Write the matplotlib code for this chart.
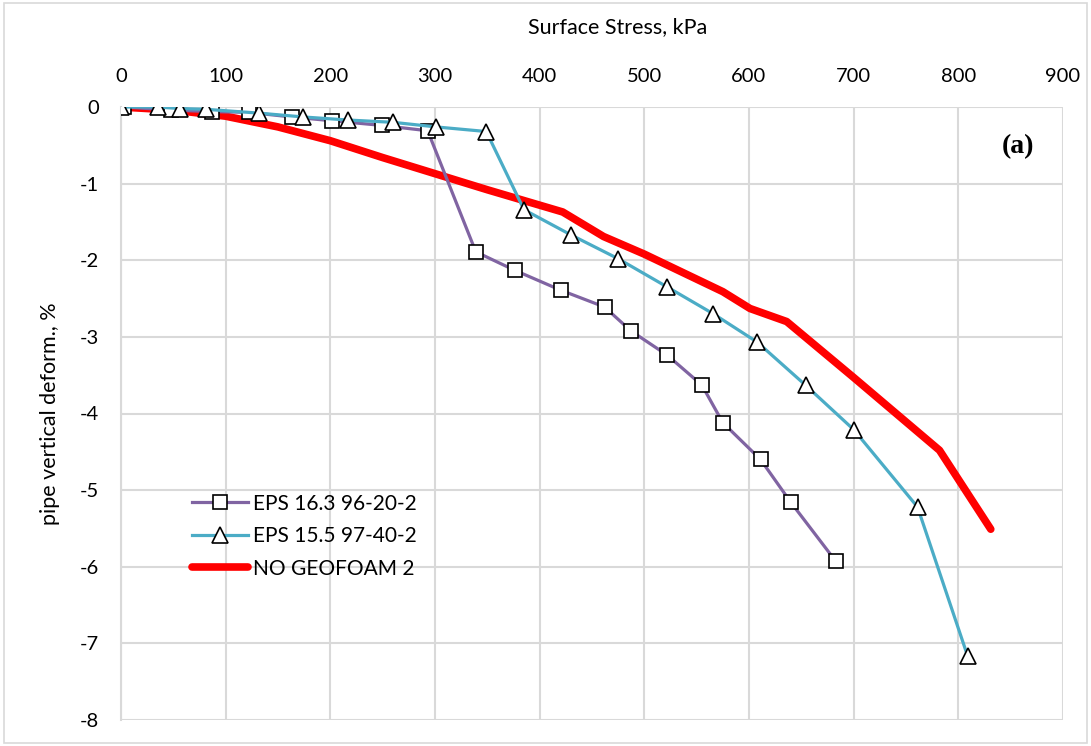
import matplotlib.pyplot as plt
from matplotlib.patches import Rectangle

# EPS 16.3 96-20-2 (squares)
eps163_x = [3, 48, 87, 122, 163, 202, 249, 293, 339, 376, 420, 462, 487, 522, 555, 575, 611, 640, 683]
eps163_y = [0, -0.04, -0.06, -0.07, -0.13, -0.18, -0.24, -0.31, -1.89, -2.13, -2.39, -2.61,
            -2.92, -3.24, -3.63, -4.12, -4.60, -5.16, -5.93]

# EPS 15.5 97-40-2 (triangles)
eps155_x = [0, 35, 56, 81, 132, 174, 217, 260, 301, 349, 385, 430, 475, 522, 566, 608, 654, 700, 761, 809]
eps155_y = [0, 0, -0.02, -0.03, -0.08, -0.13, -0.17, -0.20, -0.26, -0.32, -1.34, -1.67, -1.98,
            -2.35, -2.70, -3.07, -3.63, -4.21, -5.22, -7.17]

# NO GEOFOAM 2
nogeo_x = [0, 50, 100, 150, 200, 250, 300, 350, 422, 461, 500, 575, 601, 636, 700, 782, 831]
nogeo_y = [0, -0.04, -0.12, -0.26, -0.44, -0.66, -0.87, -1.08, -1.37, -1.69, -1.92, -2.41,
           -2.63, -2.80, -3.53, -4.48, -5.51]

xticks = [0, 100, 200, 300, 400, 500, 600, 700, 800, 900]
yticks = [0, -1, -2, -3, -4, -5, -6, -7, -8]

plt.rcParams['font.family'] = ['Lato', 'DejaVu Sans']
plt.rcParams['axes.unicode_minus'] = False

fig = plt.figure(figsize=(10.91, 7.46), dpi=100)
ax = fig.add_axes([121 / 1091, 1 - 720 / 746, 942 / 1091, 613 / 746])

# outer chart border
fig.patches.append(Rectangle((0.004, 0.004), 0.992, 0.992, transform=fig.transFigure,
                             fill=False, edgecolor='#d9d9d9', linewidth=1.2))

ax.plot(eps163_x, eps163_y, color='#8064A2', linewidth=2.3, marker='s', markersize=10,
        markerfacecolor='white', markeredgecolor='black', markeredgewidth=1.2,
        label='EPS 16.3 96-20-2', zorder=3)
ax.plot(eps155_x, eps155_y, color='#4BACC6', linewidth=2.3, marker='^', markersize=11,
        markerfacecolor='white', markeredgecolor='black', markeredgewidth=1.2,
        label='EPS 15.5 97-40-2', zorder=3)
ax.plot(nogeo_x, nogeo_y, color='#FF0000', linewidth=5.5, solid_capstyle='round',
        label='NO GEOFOAM 2', zorder=2)

ax.set_xlim(0, 900)
ax.set_ylim(-8, 0)
ax.set_xticks(xticks)
ax.set_yticks(yticks)
ax.xaxis.tick_top()
ax.xaxis.set_label_position('top')
ax.tick_params(axis='both', length=0, labelsize=14.5, colors='black')
ax.tick_params(axis='x', pad=16)
ax.tick_params(axis='y', pad=16)
ax.grid(True, color='#d9d9d9', linewidth=1.5)
ax.set_axisbelow(True)
for side in ['top', 'right', 'bottom']:
    ax.spines[side].set_visible(False)
ax.spines['left'].set_color('#d9d9d9')
ax.spines['left'].set_linewidth(1.5)

ax.set_xlabel('Surface Stress, kPa', fontsize=15.5)
ax.xaxis.set_label_coords((618 - 121) / 942, 1.12)
ax.set_ylabel('pipe vertical deform., %', fontsize=15.5, labelpad=14)

ax.text(0.970, 0.955, '(a)', transform=ax.transAxes, fontsize=20, fontweight='bold',
        family='Liberation Serif', ha='right', va='top')

ax.legend(loc='lower left', bbox_to_anchor=(0.055, 0.20), frameon=False, fontsize=15,
          handlelength=2.7, labelspacing=0.6, handletextpad=0.25)

fig.savefig('out.png', dpi=100)
